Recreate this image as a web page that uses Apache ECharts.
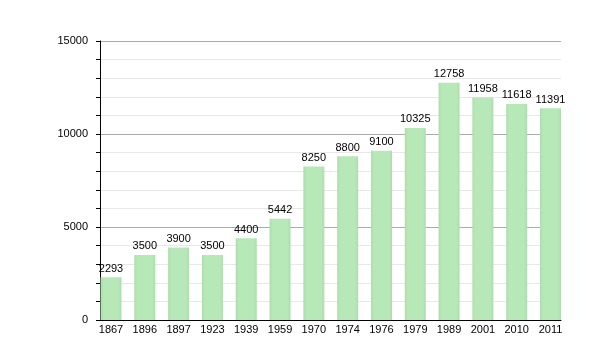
<!DOCTYPE html>
<html><head><meta charset="utf-8">
<script src="https://cdn.jsdelivr.net/npm/echarts@6/dist/echarts.min.js"></script>
<style>html,body{margin:0;padding:0;background:#fff}#c{width:600px;height:360px}</style>
</head><body><div id="c"></div>
<script>
const years = ['1867','1896','1897','1923','1939','1959','1970','1974','1976','1979','1989','2001','2010','2011'];
const population = [2293,3500,3900,3500,4400,5442,8250,8800,9100,10325,12758,11958,11618,11391];
const yMin = 0, yMax = 15000, yStep = 1000, yLabelStep = 5000;

const font = 'Liberation Sans, Arial, sans-serif';
const chart = echarts.init(document.getElementById('c'));
chart.setOption({
  animation: false,
  grid: [
    {left: 100, right: 39, top: 41, bottom: 40},
    {left: 111, right: 49.5, top: 41, bottom: 40}
  ],
  xAxis: [
    {gridIndex: 0, type: 'value', min: 0, max: 1, axisLabel: {show: false}, axisTick: {show: false}, splitLine: {show: false},
     axisLine: {show: true, lineStyle: {color: '#000', width: 1}}},
    {gridIndex: 1, type: 'category', data: years, boundaryGap: false,
     axisLine: {show: false}, axisTick: {show: false},
     axisLabel: {color: '#000', fontSize: 11, fontFamily: font, margin: 4, interval: 0}}
  ],
  yAxis: [
    {gridIndex: 0, type: 'value', min: yMin, max: yMax, interval: yStep,
     axisLine: {show: true, lineStyle: {color: '#000', width: 1}},
     axisTick: {show: true, length: 4, inside: false, lineStyle: {color: '#000'}},
     axisLabel: {color: '#000', fontSize: 11, fontFamily: font, margin: 12,
       formatter: v => (v % yLabelStep === 0 ? String(v) : '')},
     splitLine: {show: true, lineStyle: {color: ['#ababab','#e8e8e8','#e8e8e8','#e8e8e8','#e8e8e8'], width: 1}}},
    {gridIndex: 1, type: 'value', min: yMin, max: yMax, show: false, splitLine: {show: false}}
  ],
  series: [{
    type: 'bar', xAxisIndex: 1, yAxisIndex: 1, data: population, barWidth: 21,
    itemStyle: {color: new echarts.graphic.LinearGradient(0,0,1,0,[
      {offset: 0, color: '#aedcae'}, {offset: 0.15, color: '#b7e8b7'},
      {offset: 0.85, color: '#b7e8b7'}, {offset: 1, color: '#aedcae'}])},
    label: {show: true, position: 'top', distance: 3, color: '#000', fontSize: 11, fontFamily: font}
  }]
});
</script></body></html>
